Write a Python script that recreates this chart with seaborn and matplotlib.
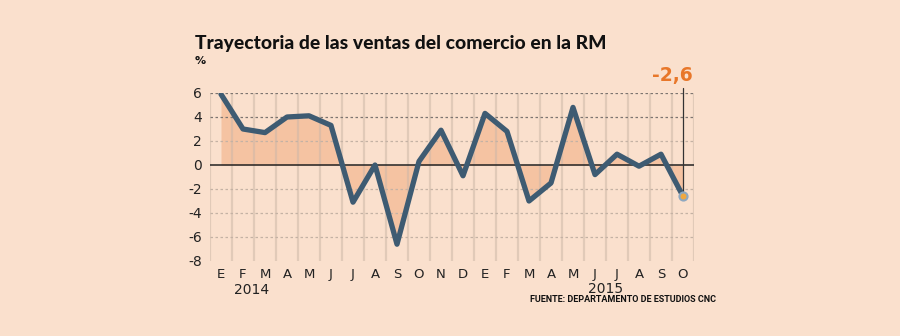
import matplotlib
matplotlib.use("Agg")
import matplotlib.pyplot as plt
import numpy as np
import pandas as pd
import seaborn as sns

# Monthly year-on-year change in retail sales, Jan 2014 - Oct 2015
months = ["E", "F", "M", "A", "M", "J", "J", "A", "S", "O", "N", "D",
          "E", "F", "M", "A", "M", "J", "J", "A", "S", "O"]
values = [5.9, 3.0, 2.7, 4.0, 4.1, 3.3, -3.1, 0.0, -6.6, 0.3, 2.9, -0.9,
          4.3, 2.8, -3.0, -1.5, 4.8, -0.8, 0.9, -0.1, 0.9, -2.6]
years = ["2014", "2015"]
yticks = [-8, -6, -4, -2, 0, 2, 4, 6]

BG = "#fae0cd"
FILL = "#f5c3a2"
LINE = "#3e5b72"
ORANGE = "#e8772a"
W, H = 900, 336

df = pd.DataFrame({"idx": np.arange(len(values)), "value": values})

sns.set_theme(style="white")
plt.rcParams["font.family"] = ["DejaVu Sans"]

fig = plt.figure(figsize=(W / 100, H / 100), dpi=100, facecolor=BG)
ax = fig.add_axes([210 / W, 1 - 261 / H, 484 / W, 168 / H])
ax.set_facecolor(BG)

# shaded area between the series and zero
ax.fill_between(df["idx"], df["value"], 0, color=FILL, linewidth=0, zorder=1)

# vertical month separators, faintly visible through the shading
for b in np.arange(-0.5, len(values), 1.0):
    ax.axvline(b, color="#cdb8a8", linewidth=1.6, alpha=0.55, zorder=1.5)

# horizontal reference lines
for t in yticks:
    if t in (0, -8):
        continue
    col = "#7d7570" if t in (6, 4) else "#c4b2a4"
    ax.axhline(t, color=col, linewidth=0.9, linestyle=(0, (2, 2)), zorder=1.6)
ax.axhline(0, color="#222222", linewidth=1.1, zorder=2)

sns.lineplot(data=df, x="idx", y="value", color=LINE, linewidth=3.8,
             ax=ax, zorder=3)

# last value highlight
last_i = len(values) - 1
last_v = values[-1]
ax.plot([last_i, last_i], [last_v, 6.4], color="#333333", linewidth=0.9,
        zorder=2.5, clip_on=False)
ax.scatter([last_i], [last_v], s=34, color="#f0a840", edgecolor="#8fa8c0",
           linewidth=1.5, zorder=4)
ax.text(last_i - 0.5, 6.65, f"{last_v:.1f}".replace(".", ","), color=ORANGE,
        fontsize=13.5, fontweight="bold", ha="center", va="bottom")

ax.set_xlim(-0.5, len(values) - 0.5)
ax.set_ylim(-8, 6)
ax.set_xticks(np.arange(len(values)))
ax.set_xticklabels(months, fontsize=9.5, color="#222222")
ax.set_yticks(yticks)
ax.set_yticklabels([str(t) for t in yticks], fontsize=10, color="#222222")
ax.tick_params(axis="both", length=0, pad=6)
ax.tick_params(axis="x", pad=5)
ax.set_xlabel("")
ax.set_ylabel("")
for s in ax.spines.values():
    s.set_visible(False)


def fitted_text(x, y, s, width_px, size, **kw):
    """Place text and rescale its size so it spans width_px pixels."""
    t = fig.text(x / W, 1 - y / H, s, fontsize=size, **kw)
    r = fig.canvas.get_renderer()
    w = t.get_window_extent(renderer=r).width
    t.set_fontsize(size * width_px / w)
    return t


fitted_text(195, 44, "Trayectoria de las ventas del comercio en la RM", 412, 14,
            fontweight=900, color="#111111", va="center",
            family=["Lato", "DejaVu Sans"])
fig.text(195 / W, 1 - 61 / H, "%", fontsize=8, fontweight="bold",
         color="#111111", va="center")
fig.text(252 / W, 1 - 290 / H, years[0], fontsize=10, color="#222222",
         ha="center", va="center")
fig.text(606 / W, 1 - 289 / H, years[1], fontsize=10, color="#222222",
         ha="center", va="center")
fitted_text(530, 300, "FUENTE: DEPARTAMENTO DE ESTUDIOS CNC", 188, 7,
            fontweight="bold", color="#111111", va="center",
            family=["Liberation Sans Narrow", "Roboto", "DejaVu Sans"])

fig.savefig("out.png", dpi=100, facecolor=BG)
